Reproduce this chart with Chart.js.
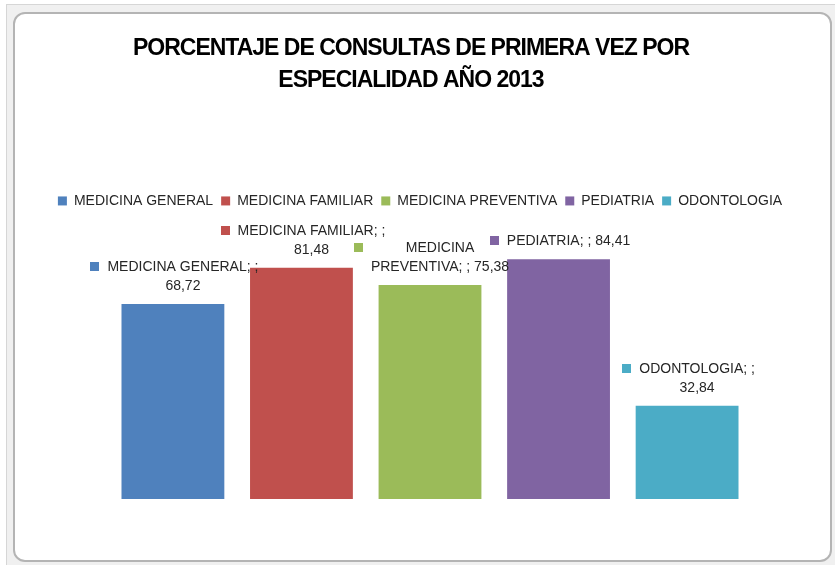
<!DOCTYPE html>
<html>
<head>
<meta charset="utf-8">
<script src="https://cdn.jsdelivr.net/npm/chart.js@4.4.1/dist/chart.umd.min.js"></script>
<style>
  html, body { margin: 0; padding: 0; background: #ffffff; width: 835px; height: 565px; overflow: hidden; }
  #outer { position: absolute; left: 6px; top: 4px; width: 840px; height: 570px; background: #f0f0f0; border: 1px solid #d6d6d6; box-sizing: border-box; }
  #frame { position: absolute; left: 13px; top: 12px; width: 819px; height: 550px; background: #ffffff; border: 2px solid #b4b4b4; border-radius: 12px; box-sizing: border-box; }
  #wrap { position: absolute; left: 0; top: 0; width: 835px; height: 565px; }
</style>
</head>
<body>
<div id="outer"></div>
<div id="frame"></div>
<div id="wrap"><canvas id="c" width="835" height="565"></canvas></div>
<script>
const titleLines = ["PORCENTAJE DE CONSULTAS DE PRIMERA VEZ POR", "ESPECIALIDAD AÑO 2013"];
const categories = [""];
const seriesNames = ["MEDICINA GENERAL", "MEDICINA FAMILIAR", "MEDICINA PREVENTIVA", "PEDIATRIA", "ODONTOLOGIA"];
const seriesValues = [68.72, 81.48, 75.38, 84.41, 32.84];
const seriesColors = ["#4f81bd", "#c0504d", "#9bbb59", "#8064a2", "#4bacc6"];

const FONT_FAMILY = "'Liberation Sans', Arial, sans-serif";
const LABEL_FONT = "14px " + FONT_FAMILY;

function fmt(v) { return v.toFixed(2).replace('.', ','); }

function wrapText(ctx, text, maxW) {
  const words = text.split(' ');
  const lines = [];
  let cur = '';
  for (const w of words) {
    const t = cur ? cur + ' ' + w : w;
    if (cur && ctx.measureText(t).width > maxW) { lines.push(cur); cur = w; }
    else cur = t;
  }
  if (cur) lines.push(cur);
  return lines;
}

const barLabelPlugin = {
  id: 'barLabels',
  afterDatasetsDraw(chart) {
    const ctx = chart.ctx;
    ctx.save();
    ctx.font = LABEL_FONT;
    ctx.textBaseline = 'middle';
    ctx.textAlign = 'center';
    chart.data.datasets.forEach((ds, i) => {
      const meta = chart.getDatasetMeta(i);
      const bar = meta.data[0];
      const text = ds.label + '; ; ' + fmt(ds.data[0]);
      const lines = wrapText(ctx, text, 152);
      const widths = lines.map(l => ctx.measureText(l).width);
      const maxW = Math.max(...widths);
      const cx = bar.x + 10;
      const lh = 19;
      const lastY = bar.y - 18;
      const firstY = lastY - (lines.length - 1) * lh;
      ctx.fillStyle = '#262626';
      lines.forEach((l, k) => ctx.fillText(l, cx, firstY + k * lh));
      ctx.fillStyle = ds.backgroundColor;
      ctx.fillRect(Math.round(cx - maxW / 2 - 17), Math.round(firstY - 5), 9, 9);
    });
    ctx.restore();
  }
};

const shiftPlugin = {
  id: 'shiftBlocks',
  afterLayout(chart) {
    const t = chart.titleBlock;
    if (t) {
      t.left -= 19; t.right -= 19;
      if (!t._wrappedDraw) {
        const orig = t.draw.bind(t);
        t.draw = function () {
          const ctx = chart.ctx;
          const prev = ctx.letterSpacing;
          ctx.letterSpacing = '-1px';
          orig();
          ctx.letterSpacing = prev || '0px';
        };
        t._wrappedDraw = true;
      }
    }
    if (chart.legend) { chart.legend.left -= 10; chart.legend.right -= 10; }
  }
};

new Chart(document.getElementById('c'), {
  type: 'bar',
  data: {
    labels: categories,
    datasets: seriesNames.map((n, i) => ({
      label: n,
      data: [seriesValues[i]],
      backgroundColor: seriesColors[i],
      borderWidth: 0,
      categoryPercentage: 0.824,
      barPercentage: 0.80
    }))
  },
  options: {
    responsive: false,
    animation: false,
    devicePixelRatio: 1,
    layout: { padding: { left: 40, right: 15, top: 0, bottom: 66 } },
    scales: {
      x: { display: false },
      y: { display: false, min: 0, max: 99 }
    },
    plugins: {
      tooltip: { enabled: false },
      title: {
        display: true,
        text: titleLines,
        color: '#000000',
        font: { family: FONT_FAMILY, size: 23, weight: 'bold', lineHeight: 1.39 },
        padding: { top: 33, bottom: 89 }
      },
      legend: {
        display: true,
        position: 'top',
        labels: {
          boxWidth: 9,
          boxHeight: 9,
          padding: 8,
          color: '#262626',
          font: { family: FONT_FAMILY, size: 14 }
        }
      }
    }
  },
  plugins: [barLabelPlugin, shiftPlugin]
});
</script>
</body>
</html>
